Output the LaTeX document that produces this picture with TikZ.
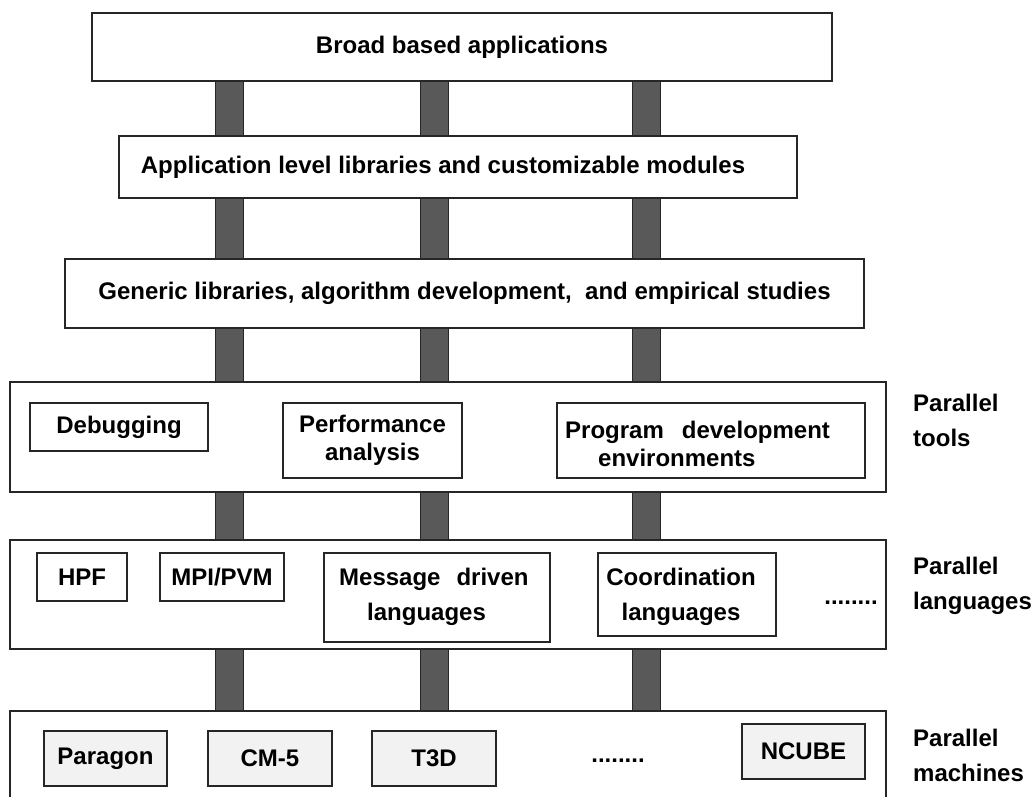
\documentclass[tikz,border=0pt]{standalone}
\usepackage{fontspec}
\setmainfont{Liberation Sans}
\begin{document}
\begin{tikzpicture}[x=1pt,y=-1pt,
  box/.style={draw=black!85, line width=1.2pt, fill=white, inner sep=0pt, align=center,
    font=\fontsize{24}{28}\selectfont\bfseries},
  mbox/.style={box, fill=gray!10},
  txt/.style={inner sep=0pt, font=\fontsize{24}{28}\selectfont\bfseries},
  side/.style={inner sep=0pt, align=left, anchor=west, font=\fontsize{24}{35}\selectfont\bfseries},
  bar/.style={draw=black!85, line width=0.8pt, fill=black!65}]
\clip (0,0) rectangle (1035,796);
\fill[white] (0,0) rectangle (1035,796);
\newcommand{\bx}[7]{\node[#6, minimum width={#4-#2}, minimum height={#5-#3}] (#1) at ({(#2+#4)/2},{(#3+#5)/2}) {#7};}
% layer boxes
\bx{b1}{92}{13}{832}{81}{box}{Broad based applications}
\bx{b2}{119}{136}{797}{198}{box}{Application level libraries and customizable modules\hspace*{30pt}}
\bx{b3}{65}{259}{864}{328}{box}{Generic libraries, algorithm development,\ \ and empirical studies}
\bx{tools}{10}{382}{886}{492}{box}{}
\bx{langs}{10}{540}{886}{649}{box}{}
\bx{machs}{10}{711}{886}{830}{box}{}
% bars
\coordinate (x1l) at (215,0); \coordinate (x1r) at (243,0);
\coordinate (x2l) at (420,0); \coordinate (x2r) at (448,0);
\coordinate (x3l) at (632,0); \coordinate (x3r) at (660,0);
\foreach \u/\v in {b1/b2, b2/b3, b3/tools, tools/langs, langs/machs}{
  \draw[bar] (\u.south -| x1l) rectangle (\v.north -| x1r);
  \draw[bar] (\u.south -| x2l) rectangle (\v.north -| x2r);
  \draw[bar] (\u.south -| x3l) rectangle (\v.north -| x3r);
}
% tools
\bx{dbg}{30}{403}{208}{451}{box}{Debugging}
\bx{perf}{283}{403}{462}{478}{box}{Performance\\analysis}
\bx{prog}{557}{403}{865}{478}{box}{}
\node[txt, align=left, anchor=west] (progt) at (565,444) {Program\hspace{18pt}development\\\hspace{33pt}environments};
% languages
\bx{hpf}{37}{553}{127}{601}{box}{HPF}
\bx{mpi}{160}{553}{284}{601}{box}{MPI/PVM}
\bx{msg}{324}{553}{550}{642}{box}{}
\node[txt, align=left, anchor=west, font=\fontsize{24}{35}\selectfont\bfseries] (msgt) at (339,597) {Message\hspace{16pt}driven\\\hspace{28pt}languages};
\bx{coord}{598}{553}{776}{636}{box}{}
\node[txt, align=center, font=\fontsize{24}{35}\selectfont\bfseries] (coordt) at (681,597) {Coordination\\languages};
\node[txt] (ldots) at (851,603) {........};
% machines
\bx{parag}{44}{731}{167}{786}{mbox}{Paragon}
\bx{cm5}{208}{731}{332}{786}{mbox}{CM-5}
\bx{t3d}{372}{731}{496}{786}{mbox}{T3D}
\node[txt] (mdots) at (618,761) {........};
\bx{ncube}{742}{724}{865}{779}{mbox}{NCUBE}
% side labels
\node[side] (st) at (913,420) {Parallel\\tools};
\node[side] (sl) at (913,586) {Parallel\\languages};
\node[side] (sm) at (913,755) {Parallel\\machines};
\end{tikzpicture}
\end{document}
